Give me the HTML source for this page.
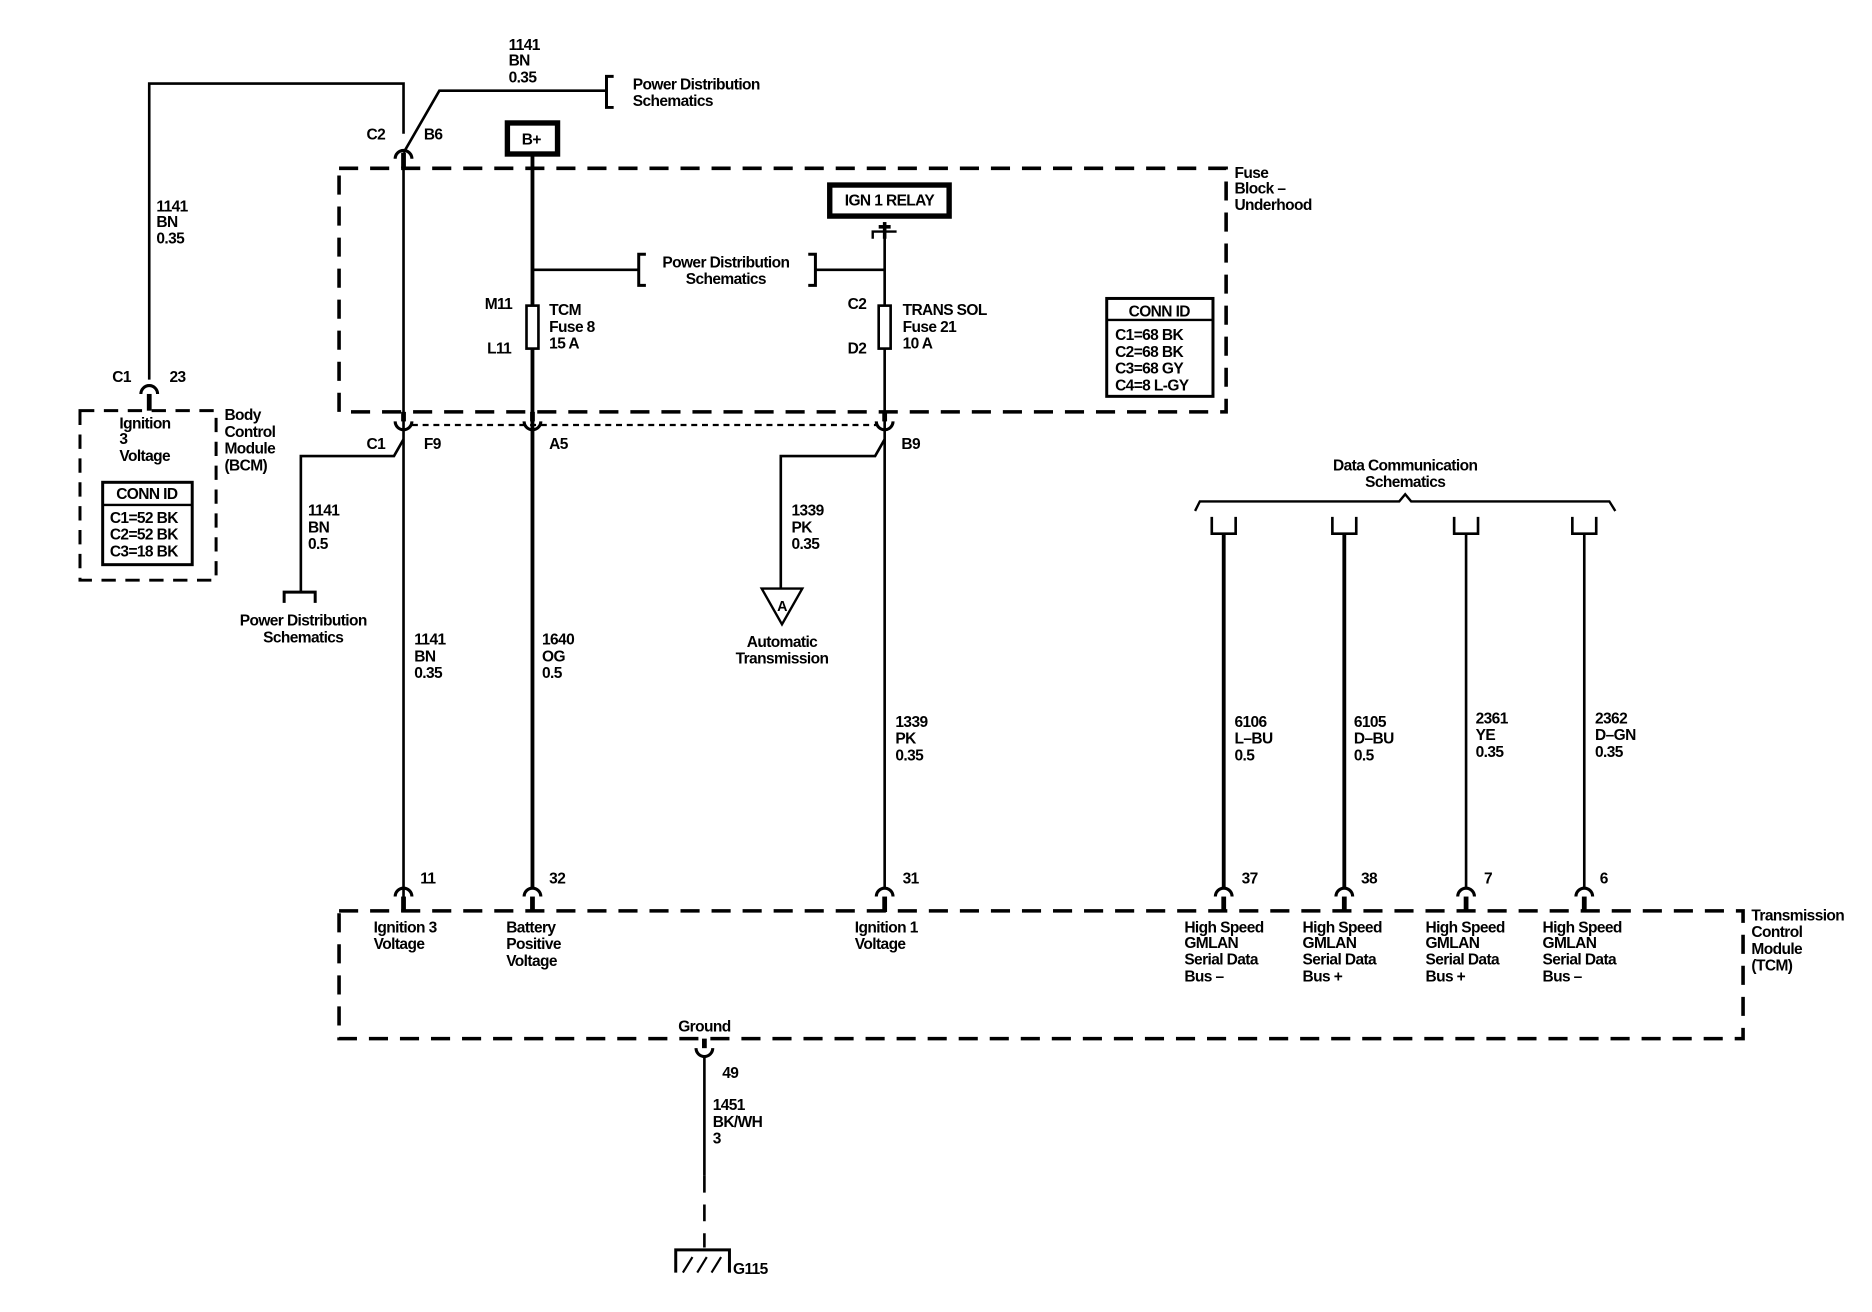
<!DOCTYPE html>
<html><head><meta charset="utf-8"><style>
html,body{margin:0;padding:0;background:#fff;}
svg{display:block;}
text{font-family:"Liberation Sans",Arial,sans-serif;font-size:13px;font-weight:bold;fill:#000;letter-spacing:-0.5px;}
.c{text-anchor:middle;}
</style></head><body>
<svg width="1872" height="1312" viewBox="0 0 1568 1099" preserveAspectRatio="none" xmlns="http://www.w3.org/2000/svg">
<g fill="none" stroke="#000" stroke-width="2.2">
<polyline points="125,318 125,70 338,70 338,112"/>
<polyline points="338,128 368,76 508,76"/>
<polyline points="514,64 508,64 508,90 514,90" stroke-width="2.5"/>
<path d="M331,133 A7,7 0 0 1 345,133" stroke-width="2.6"/>
<path d="M118,330 A7,7 0 0 1 132,330" stroke-width="2.6"/>
<line x1="125" y1="330" x2="125" y2="344" stroke-width="4"/>
<line x1="338" y1="128" x2="338" y2="141" stroke-width="4"/>
<rect x="284" y="141" width="743" height="204" stroke-width="3" stroke-dasharray="16,10"/>
<rect x="425" y="103" width="42" height="26" stroke-width="4.5"/>
<rect x="695" y="155" width="100" height="26" stroke-width="4.5"/>
<line x1="338" y1="141" x2="338" y2="760" stroke-width="2.2"/>
<line x1="446" y1="130" x2="446" y2="745" stroke-width="3.2"/>
<line x1="741" y1="194" x2="741" y2="745" stroke-width="2.2"/>
<polyline points="731,200 731,194 751,194" stroke-width="2"/>
<line x1="741" y1="186" x2="741" y2="200" stroke-width="3"/>
<line x1="736" y1="190" x2="746" y2="190" stroke-width="3"/>
<line x1="446" y1="226" x2="535" y2="226"/>
<polyline points="541,213 535,213 535,239 541,239" stroke-width="2.5"/>
<polyline points="677,213 683,213 683,239 677,239" stroke-width="2.5"/>
<line x1="683" y1="226" x2="741" y2="226"/>
<rect x="441" y="256" width="10" height="36" fill="#fff" stroke-width="2.2"/>
<rect x="736" y="256" width="10" height="36" fill="#fff" stroke-width="2.2"/>
<rect x="927" y="250" width="89" height="82" stroke-width="2.5"/>
<line x1="927" y1="268" x2="1016" y2="268" stroke-width="2"/>
<line x1="338" y1="345" x2="338" y2="353" stroke-width="4"/>
<line x1="446" y1="345" x2="446" y2="353" stroke-width="4"/>
<line x1="741" y1="345" x2="741" y2="353" stroke-width="4"/>
<path d="M331,353 A7,7 0 0 0 345,353" stroke-width="2.6"/>
<path d="M439,353 A7,7 0 0 0 453,353" stroke-width="2.6"/>
<path d="M734,353 A7,7 0 0 0 748,353" stroke-width="2.6"/>
<line x1="345" y1="356" x2="734" y2="356" stroke-width="1.8" stroke-dasharray="5,4"/>
<polyline points="338,368 330,382 252,382 252,496"/>
<polyline points="238,505 238,496 264,496 264,505" stroke-width="2.5"/>
<polyline points="741,368 733,382 654,382 654,493"/>
<polygon points="638,493 672,493 655,523" stroke-width="2"/>
<rect x="67" y="344" width="114" height="142" stroke-width="2.5" stroke-dasharray="12,8"/>
<rect x="86" y="404" width="75" height="69" stroke-width="2.5"/>
<line x1="86" y1="423" x2="161" y2="423" stroke-width="2"/>
<path d="M1001,428 L1005,420 L1172,420 L1177,414 L1182,420 L1348,420 L1353,428" stroke-width="2"/>
<g stroke-width="2.2">
<polyline points="1015,433 1015,447 1035,447 1035,433"/>
<polyline points="1116,433 1116,447 1136,447 1136,433"/>
<polyline points="1218,433 1218,447 1238,447 1238,433"/>
<polyline points="1317,433 1317,447 1337,447 1337,433"/>
</g>
<line x1="1025" y1="447" x2="1025" y2="745" stroke-width="3.2"/>
<line x1="1126" y1="447" x2="1126" y2="745" stroke-width="3.2"/>
<line x1="1228" y1="447" x2="1228" y2="745" stroke-width="2.2"/>
<line x1="1327" y1="447" x2="1327" y2="745" stroke-width="2.2"/>
<g stroke-width="2.6">
<path d="M331,751 A7,7 0 0 1 345,751"/><line x1="338" y1="751" x2="338" y2="764" stroke-width="4"/>
<path d="M439,751 A7,7 0 0 1 453,751"/><line x1="446" y1="751" x2="446" y2="764" stroke-width="4"/>
<path d="M734,751 A7,7 0 0 1 748,751"/><line x1="741" y1="751" x2="741" y2="764" stroke-width="4"/>
<path d="M1018,751 A7,7 0 0 1 1032,751"/><line x1="1025" y1="751" x2="1025" y2="764" stroke-width="4"/>
<path d="M1119,751 A7,7 0 0 1 1133,751"/><line x1="1126" y1="751" x2="1126" y2="764" stroke-width="4"/>
<path d="M1221,751 A7,7 0 0 1 1235,751"/><line x1="1228" y1="751" x2="1228" y2="764" stroke-width="4"/>
<path d="M1320,751 A7,7 0 0 1 1334,751"/><line x1="1327" y1="751" x2="1327" y2="764" stroke-width="4"/>
</g>
<rect x="284" y="763" width="1176" height="107" stroke-width="3" stroke-dasharray="16,10"/>
<line x1="590" y1="870" x2="590" y2="878" stroke-width="4"/>
<path d="M583,878 A7,7 0 0 0 597,878" stroke-width="2.6"/>
<line x1="590" y1="885" x2="590" y2="985"/>
<line x1="590" y1="985" x2="590" y2="1045" stroke-dasharray="14,10"/>
<polyline points="566,1066 566,1047 611,1047 611,1066" stroke-width="2.5"/>
<line x1="572" y1="1066" x2="580" y2="1053" stroke-width="1.8"/>
<line x1="584" y1="1066" x2="592" y2="1053" stroke-width="1.8"/>
<line x1="596" y1="1066" x2="604" y2="1053" stroke-width="1.8"/>
</g>
<text x="426" y="42">1141</text><text x="426" y="55">BN</text><text x="426" y="69">0.35</text>
<text x="530" y="75">Power Distribution</text><text x="530" y="89">Schematics</text>
<text x="307" y="117">C2</text><text x="355" y="117">B6</text>
<text x="437" y="121">B+</text>
<text x="745" y="172" class="c">IGN 1 RELAY</text>
<text x="1034" y="149">Fuse</text><text x="1034" y="162">Block –</text><text x="1034" y="176">Underhood</text>
<text x="131" y="177">1141</text><text x="131" y="190">BN</text><text x="131" y="204">0.35</text>
<text x="608" y="224" class="c">Power Distribution</text><text x="608" y="238" class="c">Schematics</text>
<text x="406" y="259">M11</text><text x="408" y="296">L11</text>
<text x="460" y="264">TCM</text><text x="460" y="278">Fuse 8</text><text x="460" y="292">15 A</text>
<text x="710" y="259">C2</text><text x="710" y="296">D2</text>
<text x="756" y="264">TRANS SOL</text><text x="756" y="278">Fuse 21</text><text x="756" y="292">10 A</text>
<text x="971" y="265" class="c">CONN ID</text>
<text x="934" y="285">C1=68 BK</text><text x="934" y="299">C2=68 BK</text><text x="934" y="313">C3=68 GY</text><text x="934" y="327">C4=8 L-GY</text>
<text x="94" y="320">C1</text><text x="142" y="320">23</text>
<text x="100" y="359">Ignition</text><text x="100" y="372">3</text><text x="100" y="386">Voltage</text>
<text x="188" y="352">Body</text><text x="188" y="366">Control</text><text x="188" y="380">Module</text><text x="188" y="394">(BCM)</text>
<text x="123" y="418" class="c">CONN ID</text>
<text x="92" y="438">C1=52 BK</text><text x="92" y="452">C2=52 BK</text><text x="92" y="466">C3=18 BK</text>
<text x="307" y="376">C1</text><text x="355" y="376">F9</text><text x="460" y="376">A5</text><text x="755" y="376">B9</text>
<text x="258" y="432">1141</text><text x="258" y="446">BN</text><text x="258" y="460">0.5</text>
<text x="254" y="524" class="c">Power Distribution</text><text x="254" y="538" class="c">Schematics</text>
<text x="663" y="432">1339</text><text x="663" y="446">PK</text><text x="663" y="460">0.35</text>
<text x="655" y="512" class="c" style="font-size:12px">A</text>
<text x="655" y="542" class="c">Automatic</text><text x="655" y="556" class="c">Transmission</text>
<text x="1177" y="394" class="c">Data Communication</text><text x="1177" y="408" class="c">Schematics</text>
<text x="347" y="540">1141</text><text x="347" y="554">BN</text><text x="347" y="568">0.35</text>
<text x="454" y="540">1640</text><text x="454" y="554">OG</text><text x="454" y="568">0.5</text>
<text x="750" y="609">1339</text><text x="750" y="623">PK</text><text x="750" y="637">0.35</text>
<text x="1034" y="609">6106</text><text x="1034" y="623">L–BU</text><text x="1034" y="637">0.5</text>
<text x="1134" y="609">6105</text><text x="1134" y="623">D–BU</text><text x="1134" y="637">0.5</text>
<text x="1236" y="606">2361</text><text x="1236" y="620">YE</text><text x="1236" y="634">0.35</text>
<text x="1336" y="606">2362</text><text x="1336" y="620">D–GN</text><text x="1336" y="634">0.35</text>
<text x="352" y="740">11</text><text x="460" y="740">32</text><text x="756" y="740">31</text>
<text x="1040" y="740">37</text><text x="1140" y="740">38</text><text x="1243" y="740">7</text><text x="1340" y="740">6</text>
<text x="313" y="781">Ignition 3</text><text x="313" y="795">Voltage</text>
<text x="424" y="781">Battery</text><text x="424" y="795">Positive</text><text x="424" y="809">Voltage</text>
<text x="716" y="781">Ignition 1</text><text x="716" y="795">Voltage</text>
<text x="992" y="781">High Speed</text><text x="992" y="794">GMLAN</text><text x="992" y="808">Serial Data</text><text x="992" y="822">Bus –</text>
<text x="1091" y="781">High Speed</text><text x="1091" y="794">GMLAN</text><text x="1091" y="808">Serial Data</text><text x="1091" y="822">Bus +</text>
<text x="1194" y="781">High Speed</text><text x="1194" y="794">GMLAN</text><text x="1194" y="808">Serial Data</text><text x="1194" y="822">Bus +</text>
<text x="1292" y="781">High Speed</text><text x="1292" y="794">GMLAN</text><text x="1292" y="808">Serial Data</text><text x="1292" y="822">Bus –</text>
<text x="1467" y="771">Transmission</text><text x="1467" y="785">Control</text><text x="1467" y="799">Module</text><text x="1467" y="813">(TCM)</text>
<text x="590" y="864" class="c">Ground</text>
<text x="605" y="903">49</text>
<text x="597" y="930">1451</text><text x="597" y="944">BK/WH</text><text x="597" y="958">3</text>
<text x="614" y="1067">G115</text>
</svg>
</body></html>
